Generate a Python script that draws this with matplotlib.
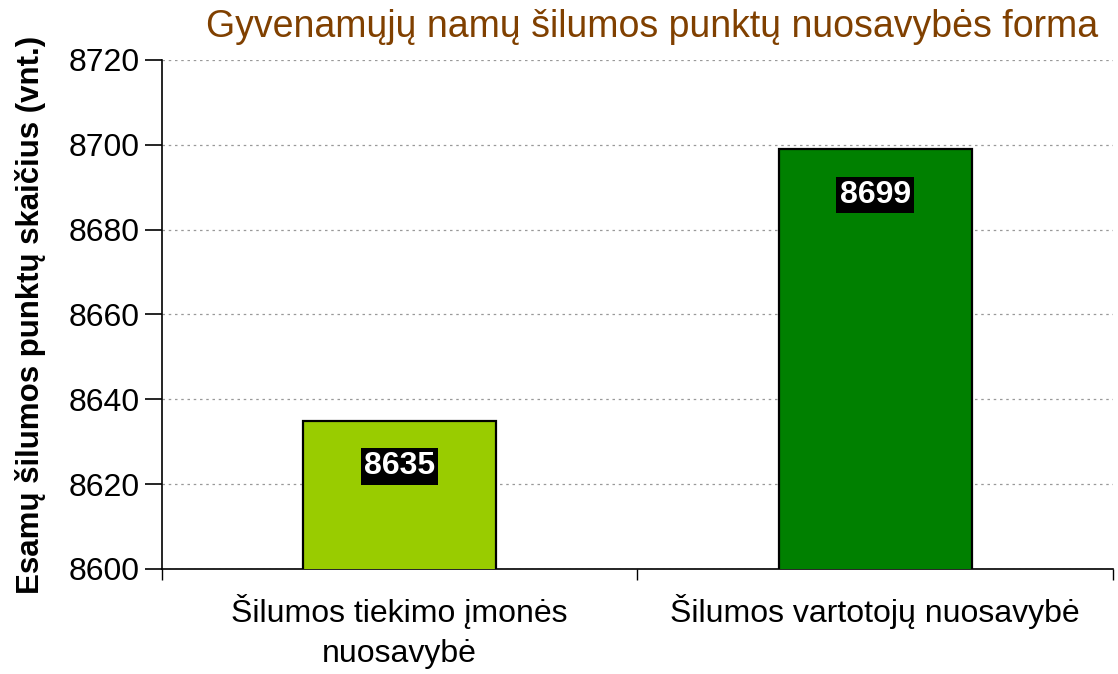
import matplotlib
matplotlib.use("Agg")
import matplotlib.pyplot as plt
from matplotlib.ticker import FixedLocator

plt.rcParams['font.family'] = ['Liberation Sans', 'DejaVu Sans']

categories = ["Šilumos tiekimo įmonės\nnuosavybė", "Šilumos vartotojų nuosavybė"]
values = [8635, 8699]
colors = ["#99CC00", "#008000"]

fig = plt.figure(figsize=(11.18, 6.74), dpi=100)
ax = fig.add_axes([0.1449, 0.1558, 0.8506, 0.7552])

x = range(len(categories))
bars = ax.bar(x, values, width=0.405, color=colors, edgecolor="black", linewidth=1.6, zorder=3)

for xi, v in zip(x, values):
    ax.annotate(str(v), (xi, v), xytext=(0, -33), textcoords="offset points",
                ha="center", va="center", fontsize=23, fontweight="bold", color="white",
                bbox=dict(boxstyle="square,pad=0.1", fc="black", ec="none"), zorder=4)

ax.set_xlim(-0.5, 1.5)
ax.set_ylim(8600, 8720)
ax.set_yticks(range(8600, 8721, 20))
ax.yaxis.grid(True, linestyle=(0, (2, 3)), color="#999999", linewidth=0.9, zorder=0)

ax.set_xticks(list(x))
ax.set_xticklabels(categories, fontsize=23, linespacing=1.45)
ax.xaxis.set_minor_locator(FixedLocator([-0.5, 0.5, 1.5]))
ax.tick_params(axis="x", which="major", length=0, pad=18)
ax.tick_params(axis="x", which="minor", length=8, width=1, direction="out")
ax.tick_params(axis="y", labelsize=23, length=12, width=1.2, direction="out", pad=4)

for s in ["top", "right"]:
    ax.spines[s].set_visible(False)
ax.spines["left"].set_linewidth(1.2)
ax.spines["bottom"].set_linewidth(1.2)

ax.set_ylabel("Esamų šilumos punktų skaičius (vnt.)", fontsize=22.5, fontweight="bold", labelpad=16)
fig.text(0.583, 0.96, "Gyvenamųjų namų šilumos punktų nuosavybės forma",
         ha="center", va="center", fontsize=27, color="#804000")

fig.savefig("out.png", dpi=100)
